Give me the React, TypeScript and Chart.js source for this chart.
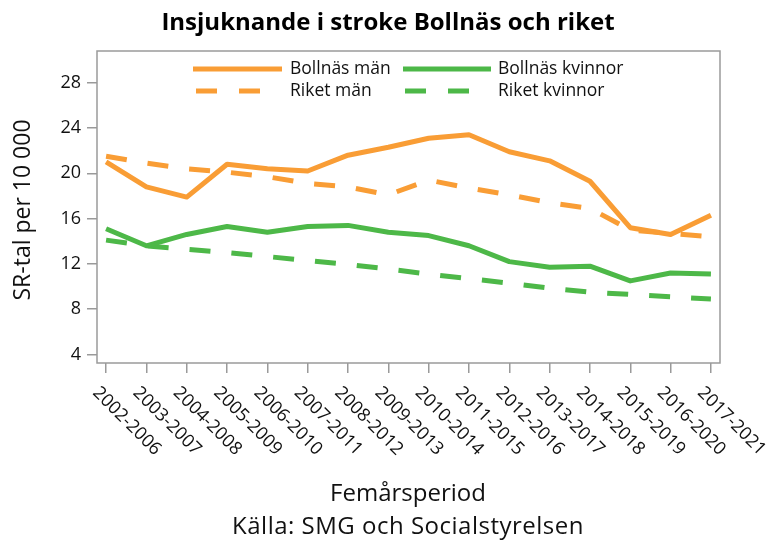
import React, { useEffect, useRef } from "react";
import { Chart, registerables } from "chart.js";

Chart.register(...registerables);

const periods = [
  "2002-2006", "2003-2007", "2004-2008", "2005-2009", "2006-2010", "2007-2011",
  "2008-2012", "2009-2013", "2010-2014", "2011-2015", "2012-2016", "2013-2017",
  "2014-2018", "2015-2019", "2016-2020", "2017-2021",
];
const bollnasMan = [21.0, 18.8, 17.9, 20.8, 20.4, 20.2, 21.6, 22.3, 23.1, 23.4, 21.9, 21.1, 19.3, 15.2, 14.6, 16.3];
const bollnasKvinnor = [15.1, 13.6, 14.6, 15.3, 14.8, 15.3, 15.4, 14.8, 14.5, 13.6, 12.2, 11.7, 11.8, 10.5, 11.2, 11.1];
const riketMan = [21.5, 20.9, 20.4, 20.1, 19.7, 19.1, 18.8, 18.1, 19.4, 18.7, 18.1, 17.4, 16.9, 15.0, 14.7, 14.4];
const riketKvinnor = [14.1, 13.6, 13.3, 13.0, 12.65, 12.3, 11.95, 11.55, 11.1, 10.7, 10.3, 9.85, 9.5, 9.3, 9.1, 8.9];
const yTicks = [4, 8, 12, 16, 20, 24, 28];

const titleText = "Insjuknande i stroke Bollnäs och riket";
const yTitle = "SR-tal per 10 000";
const xTitle = "Femårsperiod";
const sourceText = "Källa: SMG och Socialstyrelsen";

const ORANGE = "#F99D35";
const GREEN = "#4DB848";
const AXIS = "#9a9a9a";
const FONT = "'Open Sans', sans-serif";

const toXY = (arr: number[]) => arr.map((v, i) => ({ x: i, y: v }));

const decorPlugin = {
  id: "decor",
  afterDraw(chart: any) {
    const ctx = chart.ctx as any;
    const area = chart.chartArea;
    const xs = chart.scales.x;
    ctx.save();
    // box
    ctx.strokeStyle = AXIS;
    ctx.lineWidth = 1.5;
    ctx.setLineDash([]);
    ctx.strokeRect(area.left, area.top, area.right - area.left, area.bottom - area.top);

    // x labels rotated
    ctx.fillStyle = "#111";
    ctx.font = `18px ${FONT}`;
    ctx.textAlign = "left";
    ctx.textBaseline = "middle";
    periods.forEach((p, i) => {
      const x = xs.getPixelForValue(i);
      ctx.save();
      ctx.translate(x - 10.5, 390);
      ctx.rotate(Math.PI / 4);
      ctx.fillText(p, 0, 0);
      ctx.restore();
    });

    // title
    ctx.font = `bold 24px ${FONT}`;
    ctx.textAlign = "center";
    ctx.fillStyle = "#000";
    ctx.fillText(titleText, 388, 23);

    // x title and source
    ctx.font = `24px ${FONT}`;
    ctx.fillStyle = "#111";
    ctx.fillText(xTitle, 408, 494);
    ctx.letterSpacing = "0.5px";
    ctx.fillText(sourceText, 408, 527);
    ctx.letterSpacing = "0px";

    // y title
    ctx.save();
    ctx.translate(23, 210);
    ctx.rotate(-Math.PI / 2);
    ctx.font = `23px ${FONT}`;
    ctx.fillText(yTitle, 0, 0);
    ctx.restore();

    // legend
    const drawSample = (x1: number, x2: number, y: number, color: string, dash: number[]) => {
      ctx.beginPath();
      ctx.strokeStyle = color;
      ctx.lineWidth = 5;
      ctx.lineCap = "butt";
      ctx.setLineDash(dash);
      ctx.moveTo(x1, y);
      ctx.lineTo(x2, y);
      ctx.stroke();
      ctx.setLineDash([]);
    };
    ctx.font = `17.5px ${FONT}`;
    ctx.textAlign = "left";
    ctx.textBaseline = "middle";
    ctx.fillStyle = "#111";
    drawSample(193, 282, 69, ORANGE, []);
    ctx.fillText("Bollnäs män", 290, 69);
    drawSample(403, 491, 69, GREEN, []);
    ctx.fillText("Bollnäs kvinnor", 498, 69);
    drawSample(196, 260, 91, ORANGE, [21, 22]);
    ctx.fillText("Riket män", 290, 91);
    drawSample(405, 469, 91, GREEN, [21, 22]);
    ctx.fillText("Riket kvinnor", 498, 91);
    ctx.restore();
  },
};

export default function App() {
  const ref = useRef<HTMLCanvasElement | null>(null);
  useEffect(() => {
    if (!ref.current) return;
    const chart = new Chart(ref.current, {
      type: "line",
      data: {
        datasets: [
          { label: "Bollnäs män", data: toXY(bollnasMan), borderColor: ORANGE, borderWidth: 5, pointRadius: 0, borderJoinStyle: "round", tension: 0 },
          { label: "Bollnäs kvinnor", data: toXY(bollnasKvinnor), borderColor: GREEN, borderWidth: 5, pointRadius: 0, borderJoinStyle: "round", tension: 0 },
          { label: "Riket män", data: toXY(riketMan), borderColor: ORANGE, borderWidth: 5, pointRadius: 0, borderDash: [21, 21], tension: 0 },
          { label: "Riket kvinnor", data: toXY(riketKvinnor), borderColor: GREEN, borderWidth: 5, pointRadius: 0, borderDash: [21, 21], tension: 0 },
        ],
      },
      options: {
        animation: false,
        responsive: false,
        devicePixelRatio: 1,
        layout: { padding: { left: 0, right: 50, top: 51, bottom: 170 } },
        plugins: { legend: { display: false }, title: { display: false }, tooltip: { enabled: false } },
        scales: {
          x: {
            type: "linear",
            min: -0.225,
            max: 15.225,
            afterBuildTicks: (s: any) => { s.ticks = periods.map((_, i) => ({ value: i })); },
            afterFit: (s: any) => { s.height = 10; },
            ticks: { display: false },
            grid: { display: true, drawOnChartArea: false, drawTicks: true, tickLength: 10, color: AXIS, lineWidth: 1.5 },
            border: { display: false },
          },
          y: {
            type: "linear",
            min: 3.25,
            max: 30.8,
            afterBuildTicks: (s: any) => { s.ticks = yTicks.map((v) => ({ value: v })); },
            afterFit: (s: any) => { s.width = 97; },
            ticks: { color: "#111", font: { family: FONT, size: 18 }, padding: 6 },
            grid: { display: true, drawOnChartArea: false, drawTicks: true, tickLength: 10, color: AXIS, lineWidth: 1.5 },
            border: { display: false },
          },
        },
      },
      plugins: [decorPlugin],
    } as any);
    return () => chart.destroy();
  }, []);
  return (
    <div style={{ position: "fixed", left: 0, top: 0, width: 770, height: 543, background: "#fff" }}>
      <canvas ref={ref} width={770} height={543} style={{ display: "block", width: 770, height: 543 }} />
    </div>
  );
}
